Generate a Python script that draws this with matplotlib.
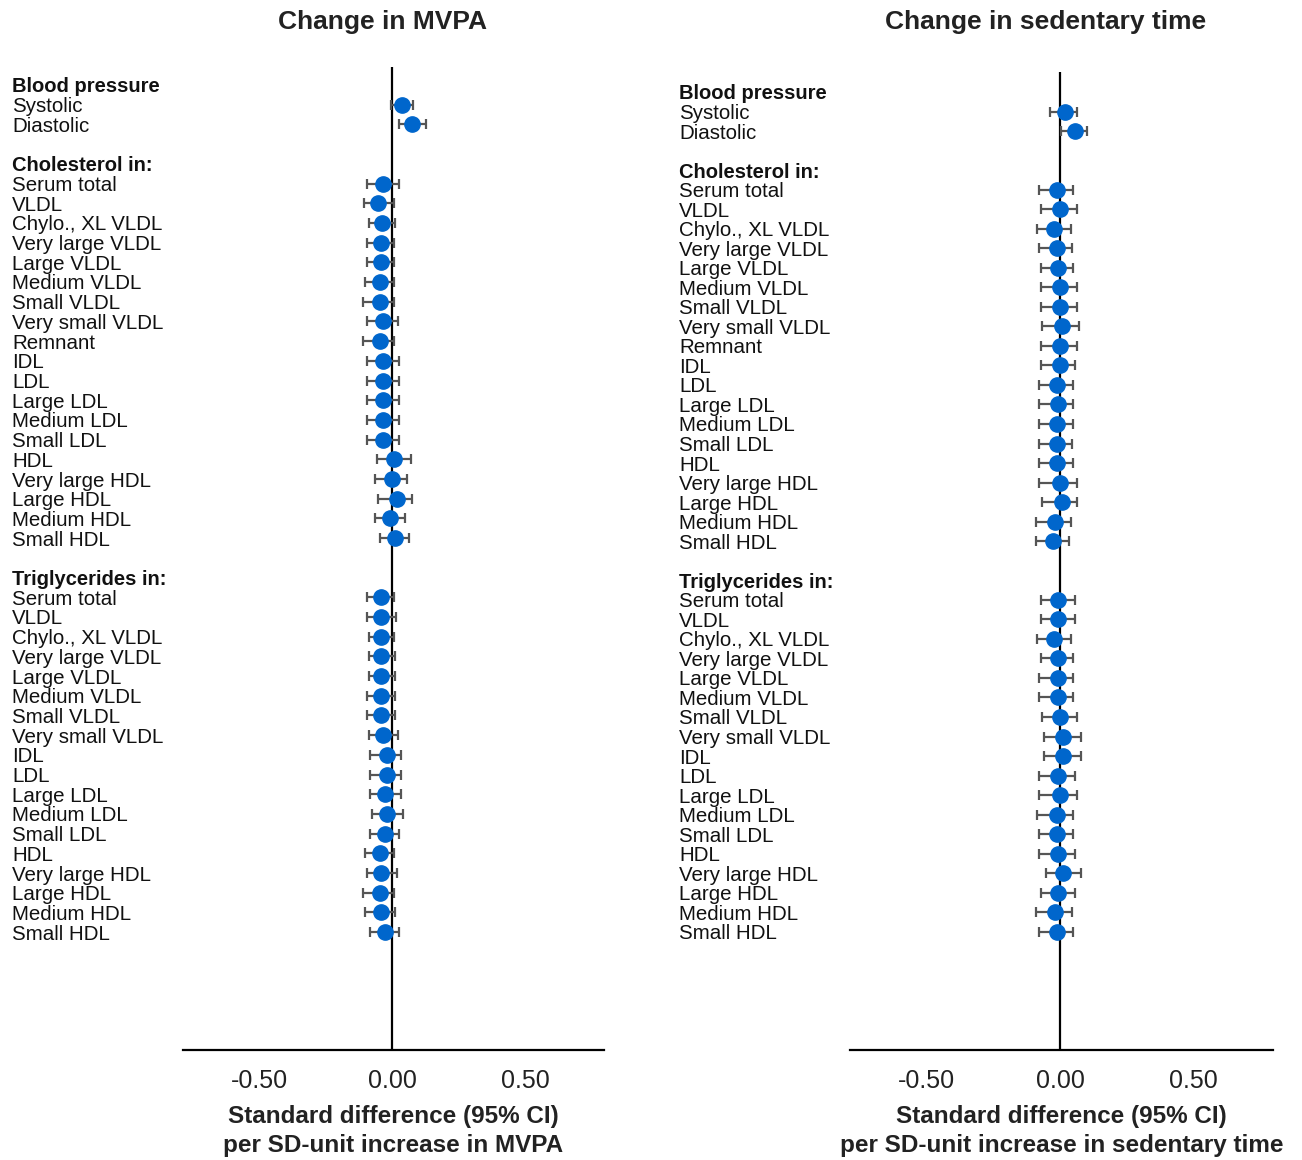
import matplotlib
matplotlib.use("Agg")
import matplotlib.pyplot as plt
import matplotlib.transforms as mtransforms

plt.rcParams['font.family'] = ['Liberation Sans', 'DejaVu Sans']

# row labels
bp_labels = ["Systolic", "Diastolic"]
chol_labels = ["Serum total", "VLDL", "Chylo., XL VLDL", "Very large VLDL", "Large VLDL",
               "Medium VLDL", "Small VLDL", "Very small VLDL", "Remnant", "IDL", "LDL",
               "Large LDL", "Medium LDL", "Small LDL", "HDL", "Very large HDL", "Large HDL",
               "Medium HDL", "Small HDL"]
trig_labels = ["Serum total", "VLDL", "Chylo., XL VLDL", "Very large VLDL", "Large VLDL",
               "Medium VLDL", "Small VLDL", "Very small VLDL", "IDL", "LDL",
               "Large LDL", "Medium LDL", "Small LDL", "HDL", "Very large HDL", "Large HDL",
               "Medium HDL", "Small HDL"]

# MVPA: estimate, lower, upper (blood pressure, cholesterol, triglycerides)
mvpa_est = [0.038, 0.075,
            -0.034, -0.052, -0.038, -0.040, -0.040, -0.045, -0.045, -0.033, -0.045, -0.033,
            -0.033, -0.033, -0.033, -0.033, 0.006, 0.000, 0.019, -0.006, 0.012,
            -0.040, -0.040, -0.040, -0.040, -0.040, -0.040, -0.040, -0.033, -0.019, -0.019,
            -0.025, -0.019, -0.025, -0.045, -0.040, -0.045, -0.040, -0.026]
mvpa_lo = [-0.004, 0.027,
           -0.095, -0.106, -0.088, -0.095, -0.095, -0.102, -0.108, -0.095, -0.108, -0.095,
           -0.095, -0.095, -0.095, -0.095, -0.058, -0.064, -0.052, -0.064, -0.045,
           -0.095, -0.095, -0.088, -0.088, -0.088, -0.095, -0.095, -0.088, -0.082, -0.082,
           -0.082, -0.075, -0.082, -0.102, -0.095, -0.108, -0.102, -0.082]
mvpa_hi = [0.080, 0.128,
           0.027, 0.006, 0.012, 0.006, 0.006, 0.006, 0.006, 0.021, 0.006, 0.027,
           0.027, 0.027, 0.027, 0.027, 0.071, 0.056, 0.074, 0.049, 0.065,
           0.009, 0.015, 0.009, 0.012, 0.012, 0.012, 0.012, 0.021, 0.034, 0.034,
           0.034, 0.040, 0.027, 0.006, 0.019, 0.009, 0.012, 0.027]

# sedentary time: estimate, lower, upper
sed_est = [0.018, 0.056,
           -0.012, 0.000, -0.023, -0.012, -0.006, 0.000, 0.000, 0.006, 0.000, 0.000,
           -0.012, -0.006, -0.012, -0.012, -0.012, 0.000, 0.006, -0.020, -0.028,
           -0.006, -0.006, -0.023, -0.006, -0.006, -0.006, 0.000, 0.012, 0.012, -0.006,
           0.000, -0.012, -0.012, -0.006, 0.012, -0.006, -0.020, -0.012]
sed_lo = [-0.039, 0.003,
          -0.079, -0.073, -0.085, -0.079, -0.073, -0.073, -0.073, -0.066, -0.073, -0.073,
          -0.079, -0.079, -0.079, -0.079, -0.079, -0.079, -0.066, -0.091, -0.091,
          -0.073, -0.073, -0.085, -0.073, -0.079, -0.079, -0.066, -0.060, -0.060, -0.079,
          -0.079, -0.085, -0.079, -0.079, -0.054, -0.073, -0.091, -0.079]
sed_hi = [0.063, 0.100,
          0.050, 0.063, 0.040, 0.044, 0.050, 0.063, 0.063, 0.071, 0.063, 0.056,
          0.050, 0.050, 0.050, 0.044, 0.050, 0.063, 0.065, 0.040, 0.032,
          0.056, 0.056, 0.040, 0.050, 0.050, 0.050, 0.065, 0.078, 0.078, 0.056,
          0.065, 0.050, 0.050, 0.056, 0.078, 0.056, 0.044, 0.050]

headers = ["Blood pressure", "Cholesterol in:", "Triglycerides in:"]

# row layout: header, items, blank line
header_rows = [0, 4, 25]
item_rows = [1, 2] + list(range(5, 24)) + list(range(26, 44))
item_labels = bp_labels + chol_labels + trig_labels

fig = plt.figure(figsize=(13.02, 11.6), dpi=100)

panels = [
    dict(rect=[183 / 1302, 1 - 1050 / 1160, 421 / 1302, 983 / 1160], ylim=(48.98, -0.914),
         est=mvpa_est, lo=mvpa_lo, hi=mvpa_hi, label_x=12 / 1302,
         title="Change in MVPA", title_x=382 / 1302,
         xlabel="Standard difference (95% CI)\nper SD-unit increase in MVPA"),
    dict(rect=[850 / 1302, 1 - 1050 / 1160, 423 / 1302, 978 / 1160], ylim=(49.05, -1.024),
         est=sed_est, lo=sed_lo, hi=sed_hi, label_x=679 / 1302,
         title="Change in sedentary time", title_x=1046 / 1302,
         xlabel="Standard difference (95% CI)\nper SD-unit increase in sedentary time"),
]

for p in panels:
    ax = fig.add_axes(p["rect"])
    est, lo, hi = p["est"], p["lo"], p["hi"]
    xerr = [[e - l for e, l in zip(est, lo)], [h - e for e, h in zip(est, hi)]]
    ax.axvline(0, color="black", lw=1.6, zorder=1)
    ax.errorbar(est, item_rows, xerr=xerr, fmt="o", color="#0066cc", ms=11,
                ecolor="#555555", elinewidth=1.6, capsize=3.8, capthick=1.6, zorder=3)
    ax.set_xlim(-0.786, 0.797)
    ax.set_ylim(*p["ylim"])
    ax.set_xticks([-0.5, 0, 0.5])
    ax.set_xticklabels(["-0.50", "0.00", "0.50"])
    ax.tick_params(axis="x", length=0, pad=14, labelsize=18, labelcolor="#222222")
    ax.set_yticks([])
    for s in ["left", "right", "top"]:
        ax.spines[s].set_visible(False)
    ax.spines["bottom"].set_linewidth(1.6)
    ax.set_xlabel(p["xlabel"], fontsize=17.5, fontweight="bold", color="#222222",
                  labelpad=8, linespacing=1.35)

    trans = mtransforms.blended_transform_factory(fig.transFigure, ax.transData)
    for r, h in zip(header_rows, headers):
        ax.text(p["label_x"], r + 0.1, h, transform=trans, fontsize=14.5, fontweight="bold",
                va="center", ha="left", color="#111111", clip_on=False)
    for r, lab in zip(item_rows, item_labels):
        ax.text(p["label_x"], r + 0.1, lab, transform=trans, fontsize=14.8,
                va="center", ha="left", color="#111111", clip_on=False)

    fig.text(p["title_x"], 1 - 22 / 1160, p["title"], fontsize=19, fontweight="bold",
             ha="center", va="center", color="#222222")

fig.savefig("out.png", dpi=100)
